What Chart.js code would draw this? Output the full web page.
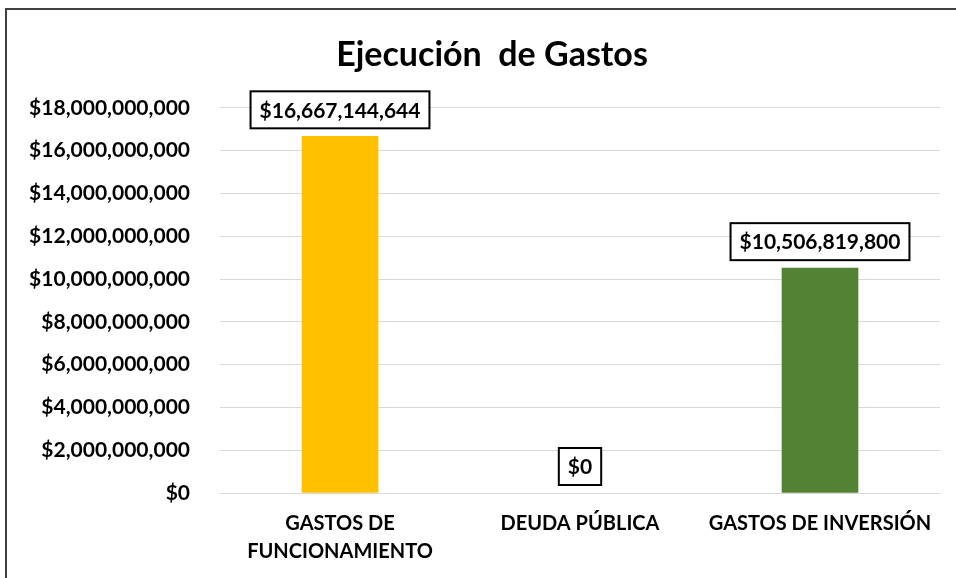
<!DOCTYPE html>
<html>
<head>
<meta charset="utf-8">
<script src="https://cdn.jsdelivr.net/npm/chart.js@4/dist/chart.umd.min.js"></script>
<style>
  html, body { margin: 0; padding: 0; background: #fff; overflow: hidden; }
  #frame { position: absolute; left: 5px; top: 8px; width: 2000px; height: 2000px;
           border-left: 2px solid #404040; border-top: 2px solid #404040; }
  #wrap { position: absolute; left: 0; top: 0; width: 956px; height: 578px; }
</style>
</head>
<body>
<div id="frame"></div>
<div id="wrap"><canvas id="c"></canvas></div>
<script>
const categories = [["GASTOS DE", "FUNCIONAMIENTO"], "DEUDA PÚBLICA", "GASTOS DE INVERSIÓN"];
const values = [16667144644, 0, 10506819800];
const barColors = ["#FFC000", "rgba(0,0,0,0)", "#548235"];
const yMax = 18000000000;
const yStep = 2000000000;
const titleText = "Ejecución  de Gastos";

const FONT = "Lato, 'Open Sans', sans-serif";
const W = "bold";
const money = v => "$" + Number(v).toLocaleString("en-US");

const boxedLabels = {
  id: "boxedLabels",
  afterLayout(chart) {
    // shift the title's box so it centres like the original
    if (chart.titleBlock) { chart.titleBlock.left = 44; }
  },
  afterDatasetsDraw(chart) {
    const ctx = chart.ctx;
    const meta = chart.getDatasetMeta(0);
    const ds = chart.data.datasets[0];
    ctx.save();
    ctx.font = W + " 21px " + FONT;
    ctx.textAlign = "center";
    ctx.textBaseline = "middle";
    meta.data.forEach((bar, i) => {
      const txt = money(ds.data[i]);
      const w = ctx.measureText(txt).width + 18;
      const h = 37;
      const bottom = bar.y - 8;
      const left = bar.x - w / 2;
      ctx.fillStyle = "#fff";
      ctx.fillRect(left, bottom - h, w, h);
      ctx.lineWidth = 2;
      ctx.strokeStyle = "#000";
      ctx.strokeRect(left, bottom - h, w, h);
      ctx.fillStyle = "#000";
      ctx.fillText(txt, bar.x, bottom - h / 2 + 1);
    });
    ctx.restore();
  }
};

new Chart(document.getElementById("c"), {
  type: "bar",
  data: {
    labels: categories,
    datasets: [{
      data: values,
      backgroundColor: barColors,
      barThickness: 76
    }]
  },
  options: {
    responsive: true,
    maintainAspectRatio: false,
    animation: false,
    layout: { padding: { left: 0, right: 16, top: 0, bottom: 0 } },
    plugins: {
      legend: { display: false },
      tooltip: { enabled: false },
      title: {
        display: true,
        text: titleText,
        color: "#000",
        font: { family: FONT, size: 34, weight: W, lineHeight: 1.2 },
        padding: { top: 35, bottom: 32 }
      }
    },
    scales: {
      x: {
        grid: { display: false, drawTicks: false },
        border: { display: false },
        ticks: {
          color: "#000",
          padding: 17,
          maxRotation: 0,
          autoSkip: false,
          font: { family: FONT, size: 20, weight: W, lineHeight: 1.4 }
        },
        afterFit(scale) { scale.height = 85; }
      },
      y: {
        min: 0,
        max: yMax,
        grid: { color: "#d9d9d9", lineWidth: 1, drawTicks: false },
        border: { display: false },
        ticks: {
          stepSize: yStep,
          color: "#000",
          padding: 30,
          font: { family: FONT, size: 21, weight: W },
          callback: v => money(v)
        },
        afterFit(scale) { scale.width = 220; }
      }
    }
  },
  plugins: [boxedLabels]
});
</script>
</body>
</html>
